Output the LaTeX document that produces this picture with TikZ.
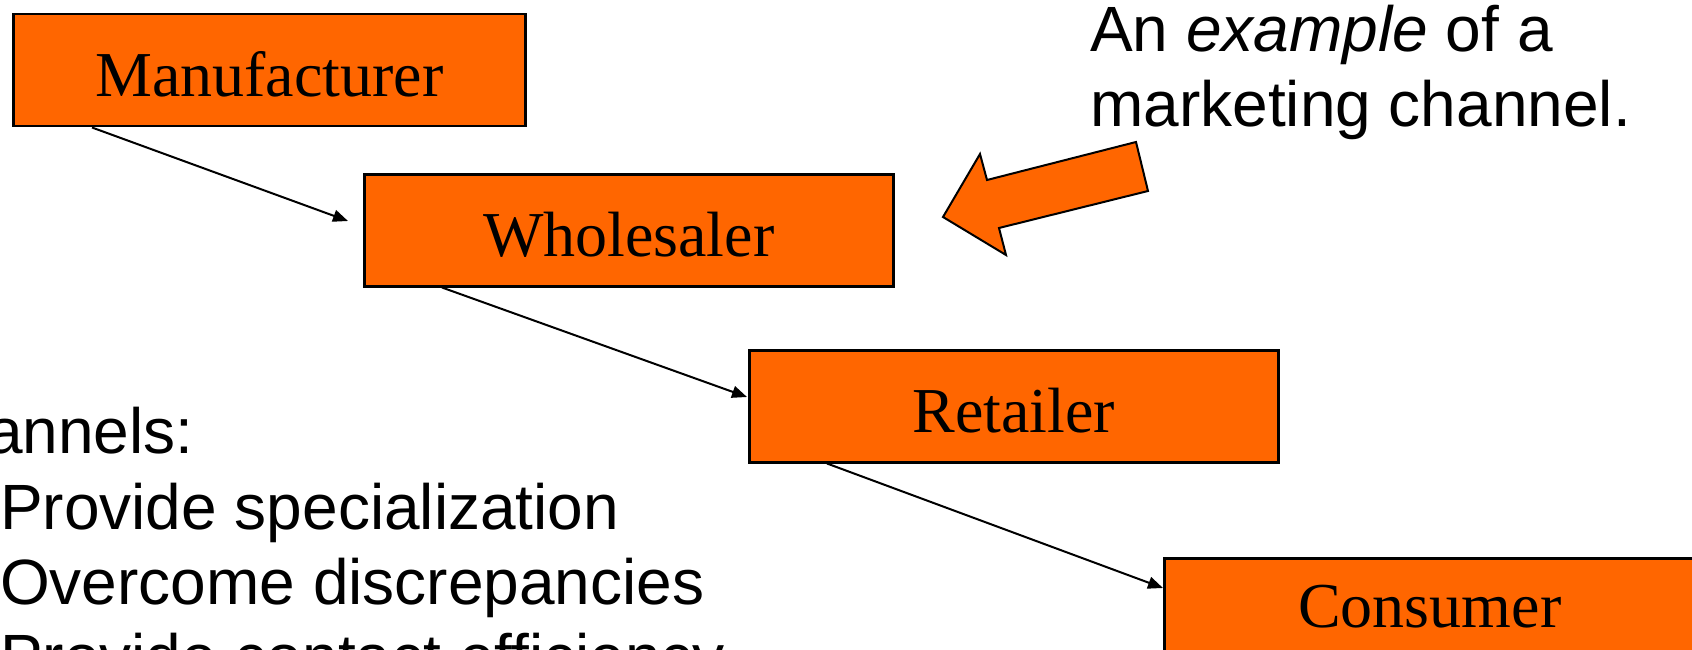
\documentclass[tikz,border=0pt]{standalone}
\usepackage{fontspec}
\setmainfont{Liberation Serif}
\newfontfamily\arialfont{Liberation Sans}
\usetikzlibrary{arrows.meta,calc}
\definecolor{chanorange}{HTML}{FF6600}
\begin{document}
\begin{tikzpicture}[x=1pt,y=-1pt,
  stage/.style={draw=black, line width=2.5pt, fill=chanorange, rectangle,
    inner sep=0pt, minimum height=112pt, text height=52pt, text depth=0pt,
    anchor=north west, font=\fontsize{64}{76}\selectfont},
  flow/.style={line width=2pt, -{Triangle[length=15pt,width=12pt]}},
  note/.style={inner sep=0pt, align=left, anchor=base west,
    font=\arialfont\fontsize{64}{75}\selectfont}]
\useasboundingbox (0,0) rectangle (1692,650);
\clip (0,0) rectangle (1692,650);

% the four stages of the channel
\node[stage, minimum width=512pt] (man)   at (12,13)    {Manufacturer};
\node[stage, minimum width=529pt] (whole) at (363,173)  {Wholesaler};
\node[stage, minimum width=529pt] (ret)   at (748,349)  {Retailer};
\node[stage, minimum width=531pt, text height=26pt] (cons) at (1163,557) {Consumer};

% flow from one stage to the next
\draw[flow] ($(man.south west)+(80,0)$)   -- ($(whole.north west)+(-15,48)$);
\draw[flow] ($(whole.south west)+(79,0)$) -- ($(ret.north west)+(-1,48)$);
\draw[flow] ($(ret.south west)+(79,0)$)   -- ($(cons.north west)+(0,31)$);

% block arrow pointing at the chain
\filldraw[fill=chanorange, draw=black, line width=2pt, line join=miter]
  (943,217) -- (980,154) -- (987,180) -- (1136,142) -- (1148,191)
  -- (999,228) -- (1006,255) -- cycle;

% captions (a multi-line node sits on the baseline of its last line)
\node[note] (cap)  at (1090,127) {An \textit{example} of a\\marketing channel.};
\node[note] (head) at (-13,453)  {annels:};
\node[note] (list) at (0,679)    {Provide specialization\\Overcome discrepancies\\Provide contact efficiency};
\end{tikzpicture}
\end{document}
